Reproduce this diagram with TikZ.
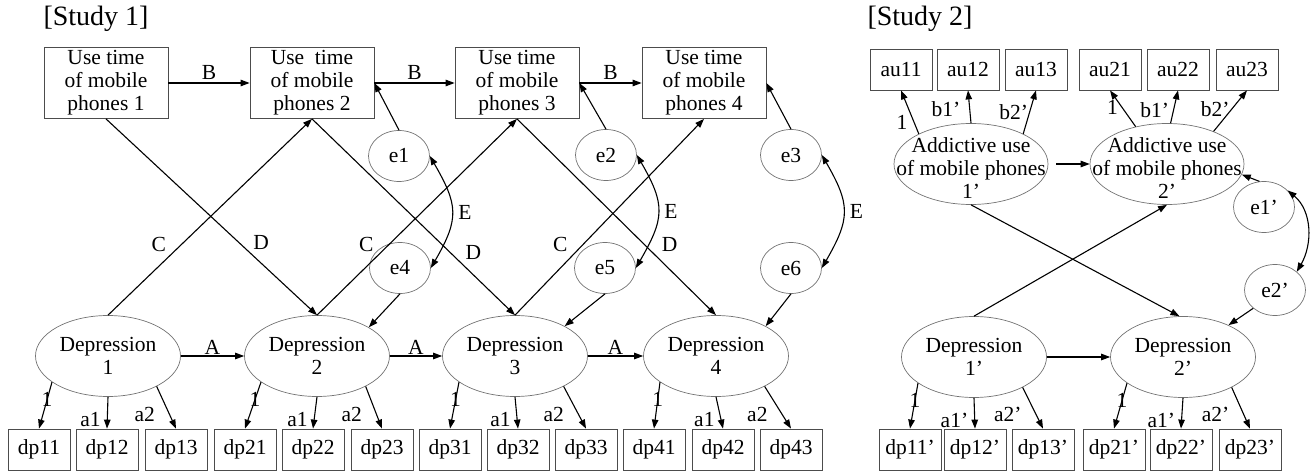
\documentclass[tikz,border=0pt]{standalone}
\usepackage{fontspec}
\setmainfont{Liberation Serif}
\usetikzlibrary{shapes.geometric,arrows.meta,positioning}

\begin{document}
\begin{tikzpicture}[x=1pt,y=1pt,
        font=\fontsize{21.5}{23}\selectfont,
        obsbox/.style={shape=rectangle, draw=black!70, line width=0.8pt,
            inner sep=0pt, minimum width=62pt, minimum height=41pt},
        usebox/.style={obsbox, minimum width=124pt, minimum height=71pt, align=center},
        latent/.style={shape=ellipse, draw=black!55, line width=0.7pt,
            inner sep=1pt, minimum width=145pt, minimum height=81pt, align=center},
        errnode/.style={latent, minimum width=61pt, minimum height=51pt},
        myarrow/.style={-{Triangle[length=9pt,width=6.5pt]}, line width=1.1pt},
        biarrow/.style={{Triangle[length=9pt,width=6.5pt]}-{Triangle[length=9pt,width=6.5pt]}, line width=1.1pt},
        coef/.style={inner sep=1pt}
    ]
    \useasboundingbox (0,0) rectangle (1312,472);

    % Study 1
    \node (title1) at (96,453) {\fontsize{28}{30}\selectfont [Study 1]};
    \foreach \n/\x/\u in {1/106/Use time,2/312/Use~~time,3/517/Use time,4/704/Use time}
        \node [usebox] (use\n) at (\x,389) {\u\\of mobile\\phones \n};
    \foreach \n/\x in {1/108,2/317,3/515,4/716}
        \node [latent] (dep\n) at (\x,116) {Depression\\\n};
    \foreach \n/\x/\y in {1/399/316,2/606/317,3/791/317,4/400/204,5/605/204,6/791/204}
        \node [errnode] (e\n) at (\x,\y) {e\n};
    \foreach \n/\x in {11/39,12/107,13/176,21/245,22/313,23/382,
                       31/450,32/518,33/586,41/654,42/723,43/791}
        \node [obsbox] (dp\n) at (\x,22.5) {dp\n};

    \foreach \d in {1,...,4} {
        \draw [myarrow] (dep\d.205) -- node [coef, pos=0.38] {1} (dp\d1.north);
        \draw [myarrow] (dep\d.south) -- node [coef, pos=0.72, left=5pt] {a1} (dp\d2.north);
        \draw [myarrow] (dep\d.-32) -- node [coef, pos=0.66, left=13pt] {a2} (dp\d3.north);
    }
    \foreach \a/\b in {1/2,2/3,3/4} {
        \draw [myarrow] (use\a) -- node [coef, above=2pt] {B} (use\b);
        \draw [myarrow] (dep\a) -- node [coef, above=0pt] {A} (dep\b);
    }

    \draw [myarrow] (dep1.north) -- node [coef, pos=0.36, left=14pt] {C} (use2.south);
    \draw [myarrow] (dep2.north) -- node [coef, pos=0.36, left=14pt] {C} (use3.south);
    \draw [myarrow] (dep3.north) -- node [coef, pos=0.36, left=14pt] {C} (use4.south);
    \draw [myarrow] (use1.south) -- node [coef, pos=0.63, right=13pt] {D} (dep2.north);
    \draw [myarrow] (use2.south) -- node [coef, pos=0.68, right=14pt] {D} (dep3.north);
    \draw [myarrow] (use3.south) -- node [coef, pos=0.64, right=16pt] {D} (dep4.north);

    \draw [myarrow] (e1.north) -- (use2.east);
    \draw [myarrow] (e2.north) -- (use3.east);
    \draw [myarrow] (e3.north) -- (use4.east);
    \draw [myarrow] (e4.south) -- (dep2.29);
    \draw [myarrow] (e5.south) -- (dep3.31);
    \draw [myarrow] (e6.south) -- (dep4.31);
    \foreach \a/\b in {1/4,2/5,3/6}
        \draw [biarrow] (e\a.east) to [out=-60, in=60, looseness=1.3]
            node [coef, right=5pt] {E} (e\b.east);

    % Study 2
    \node (title2) at (920,453) {\fontsize{28}{30}\selectfont [Study 2]};
    \foreach \n/\x in {11/901,12/968,13/1036,21/1110,22/1178,23/1247}
        \node [obsbox] (au\n) at (\x,402.5) {au\n};
    \foreach \n/\x in {1/971,2/1167}
        \node [latent, minimum width=154pt,
            label={[align=center, yshift=-4pt]center:Addictive use\\of mobile phones\\\n'}]
            (addict\n) at (\x,308) {};
    \node [errnode] (e1p) at (1264,265) {e1'};
    \node [errnode] (e2p) at (1275,182) {e2'};
    \foreach \n/\x in {1/974,2/1183}
        \node [latent] (depp\n) at (\x,115) {Depression\\\n'};
    \foreach \n/\x in {11/910,12/975,13/1043,21/1114,22/1181,23/1250}
        \node [obsbox] (dpp\n) at (\x,22.5) {dp\n'};

    \draw [myarrow] (addict1.150) -- node [coef, pos=0.27, left=5pt] {1} (au11.south);
    \draw [myarrow] (addict1.north) -- node [coef, pos=0.42, left=8pt] {b1'} (au12.south);
    \draw [myarrow] (addict1.30) -- node [coef, pos=0.5, left=0pt] {b2'} (au13.south);
    \draw [myarrow] (addict2.130) -- node [coef, pos=0.52, left=3pt] {1} (au21.south);
    \draw [myarrow] (addict2.85) -- node [coef, pos=0.4, left=3pt] {b1'} (au22.south);
    \draw [myarrow] (addict2.35) -- node [coef, pos=0.55, left=1pt] {b2'} (au23.south);

    \foreach \d in {1,2} {
        \draw [myarrow] (depp\d.205) -- node [coef, pos=0.38] {1} (dpp\d1.north);
        \draw [myarrow] (depp\d.south) -- node [coef, pos=0.72, left=5pt] {a1'} (dpp\d2.north);
        \draw [myarrow] (depp\d.-32) -- node [coef, pos=0.66, left=13pt] {a2'} (dpp\d3.north);
    }

    \draw [myarrow, shorten <=8pt] (addict1.east) -- (addict2.west);
    \draw [myarrow] (depp1) -- (depp2);
    \draw [myarrow] (addict1.south) -- (depp2.95);
    \draw [myarrow] (depp1.north) -- (addict2.south);
    \draw [myarrow] (e1p.100) -- (addict2.-8);
    \draw [myarrow] (e2p.220) -- (depp2.35);
    \draw [biarrow] (e1p.35) to [out=-40, in=60] (e2p.40);
\end{tikzpicture}
\end{document}
